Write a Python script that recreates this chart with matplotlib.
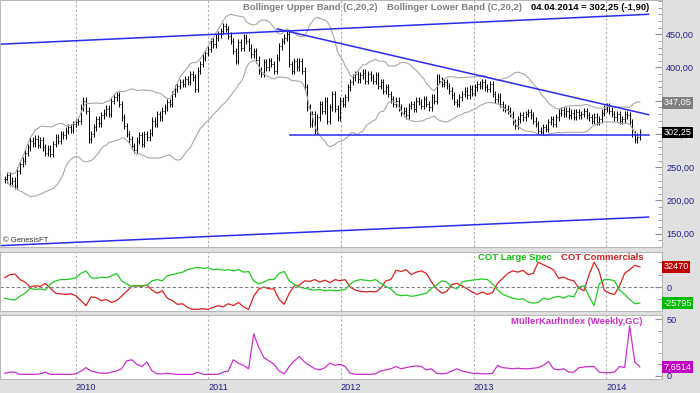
import numpy as np
import pandas as pd
import matplotlib
matplotlib.use('Agg')
import matplotlib.pyplot as plt
import matplotlib.dates as mdates
from matplotlib.ticker import FuncFormatter, MultipleLocator

plt.rcParams['font.family'] = ['Liberation Sans', 'DejaVu Sans']

# weekly closes (last bar 04.04.2014)
closes = [
    232, 238, 226, 230, 222, 245, 255, 260, 272, 280,
    290, 286, 293, 284, 291, 280, 272, 278, 270, 285,
    295, 290, 300, 298, 305, 310, 306, 315, 318, 320,
    340, 350, 335, 292, 300, 310, 322, 316, 328, 332,
    338, 330, 350, 355, 358, 345, 325, 312, 300, 292,
    282, 276, 290, 298, 285, 300, 295, 302, 320, 315,
    330, 325, 335, 340, 348, 345, 360, 368, 372, 378,
    375, 382, 378, 390, 385, 368, 395, 405, 415, 422,
    428, 440, 435, 445, 450, 455, 462, 458, 448, 440,
    425, 410, 438, 430, 445, 440, 430, 420, 425, 412,
    395, 390, 408, 400, 410, 405, 395, 415, 432, 440,
    445, 450, 405, 395, 410, 400, 410, 395, 370, 340,
    315, 330, 305, 325, 345, 335, 350, 320, 340, 360,
    338, 325, 350, 345, 355, 370, 378, 385, 390, 382,
    388, 392, 380, 390, 385, 380, 388, 372, 378, 365,
    370, 360, 352, 345, 350, 340, 332, 335, 328, 342,
    345, 338, 350, 348, 342, 352, 345, 340, 355, 350,
    385, 380, 375, 378, 372, 365, 358, 348, 345, 355,
    360, 365, 358, 368, 362, 370, 375, 372, 378, 370,
    368, 375, 360, 352, 356, 345, 340, 338, 335, 330,
    318, 312, 322, 328, 325, 330, 333, 328, 320, 315,
    305, 303, 310, 308, 318, 322, 315, 325, 332, 336,
    330, 335, 328, 332, 326, 333, 328, 330, 334, 328,
    325, 320, 326, 318, 322, 332, 338, 342, 335, 330,
    325, 330, 320, 322, 330, 328, 318, 300, 292, 296,
    302.25,
]
last_date = '2014-04-04'
wick = 5  # bar extension above/below open-close

# COT net positions (thousands), every second week
cot_commercials = [
    15, 20, 21, 12, 8, 0, 2, 1, 6, -2,
    -10, -11, -12, -11, -14, -22, -30, -16, -17, -22,
    -20, -25, -22, -15, -7, 1, 2, 1, 3, -5,
    -10, -6, -18, -22, -28, -27, -33, -36, -36, -35,
    -36, -33, -30, -32, -27, -30, -25, -32, -36, -15,
    -3, 0, -3, -3, -20, -28, -10, 2, 3, 10,
    9, 12, 8, 11, 7, 12, 10, 12, 0, -5,
    -7, -8, -7, -8, -2, 10, 12, 27, 25, 28,
    20, 24, 26, 22, 8, -3, -10, -7, 4, 6,
    2, -3, -8, -12, -8, -12, -9, 6, 14, 22,
    26, 24, 27, 20, 22, 40, 36, 32, 28, 14,
    16, 12, 10, -2, -6, 20, 40, 25, -5, -10,
    -12, 2, 22, 28, 35, 32.47,
]
cot_large_spec = [
    -18, -20, -21, -15, -10, -2, -4, -3, -5, 5,
    10, 12, 12, 13, 15, 22, 26, 15, 14, 16,
    15, 18, 22, 10, 5, 1, 2, 2, 3, 10,
    12, 10, 18, 20, 22, 24, 28, 30, 32, 30,
    31, 28, 29, 27, 28, 26, 28, 24, 25, 10,
    5, 8, 12, 12, 22, 25, 10, 4, 0, -2,
    -4, -5, -4, -6, -5, -6, -5, -4, 5, 10,
    12, 11, 10, 12, 6, 1, -3, -12, -14, -13,
    -15, -14, -12, -10, -2, 3, 10, 8, 0, -3,
    8, 10, 11, 12, 13, 12, 5, -5, -12, -15,
    -18, -20, -19, -24, -26, -25, -18, -20, -17, -15,
    -18, -14, -16, 0, 2, -15, -30, 5, 12, 12,
    10, -5, -12, -20, -27, -25.795,
]

# MuellerKaufIndex, every second week
mueller = [
    2, 3, 3, 1, 1, 1, 1, 1.5, 3, 1,
    1, 1, 1, 1, 1.5, 4, 7, 4, 3, 2,
    2, 3, 4, 6, 13, 14, 10, 8, 12, 4,
    1.5, 1.5, 2, 1.5, 1, 1, 1, 1, 3, 1,
    1, 1, 1, 3, 4, 14, 11, 9, 6, 37,
    25, 16, 13, 10, 4, 1.5, 8, 13, 17, 12,
    9, 6, 5, 7, 11, 9, 10, 8, 2, 1,
    1, 1, 1, 1.5, 4, 5, 6, 8, 6, 7,
    8, 8.5, 8, 5, 6, 2, 1.5, 2, 4, 6,
    4, 3, 2, 2, 1.5, 1.5, 2, 9, 7, 6.5,
    6, 6.5, 6, 6, 6.5, 7, 9, 12.5, 6, 5,
    6, 3, 3, 7, 7.5, 8, 8, 3, 2.5, 2.5,
    3, 8, 7, 44, 12, 7.6514,
]

# trend lines (date, price)
channel_top = [('2009-06-06', 435), ('2014-04-28', 480)]
channel_bottom = [('2009-06-06', 132), ('2014-04-28', 175)]
resistance = [('2011-07-10', 458), ('2014-04-28', 329)]
support = [('2011-08-14', 299), ('2014-04-28', 299)]
upper_band_last = 347.05

navy = '#20208a'
blue = '#2a2af0'
grey_bg = '#e0e0e0'

dates = pd.date_range(end=last_date, periods=len(closes), freq='7D')
x = mdates.date2num(dates)
x2 = x[::2]
c = np.array(closes, dtype=float)
o = np.concatenate([[c[0]], c[:-1]])
hi = np.maximum(o, c) + wick
lo = np.minimum(o, c) - wick

s = pd.Series(c)
mid = s.rolling(20, min_periods=2).mean()
sd = s.rolling(20, min_periods=2).std(ddof=0)
upper = mid + 2 * sd
lower = mid - 2 * sd

xmin = mdates.date2num(pd.Timestamp('2009-06-06'))
xmax = mdates.date2num(pd.Timestamp('2014-06-04'))
years = [mdates.date2num(pd.Timestamp(f'{y}-01-01')) for y in range(2010, 2015)]

fig = plt.figure(figsize=(7, 3.93), dpi=100, facecolor=grey_bg)
W, H = 700, 393
def box(top, bottom, right=662):
    return [0, 1 - bottom / H, right / W, (bottom - top) / H]

ax1 = fig.add_axes(box(0, 247))
ax2 = fig.add_axes(box(252, 311))
ax3 = fig.add_axes(box(315, 379))

for ax in (ax1, ax2, ax3):
    ax.set_facecolor('white')
    ax.set_xlim(xmin, xmax)
    ax.set_xticks(years)
    for v in years:
        ax.axvline(v, color='#b0b0b0', lw=0.8, ls=(0, (2, 2)), zorder=0)
    ax.yaxis.tick_right()
    ax.tick_params(axis='y', direction='in', colors='#909090', labelcolor=navy,
                   labelsize=6.6, length=5, pad=3)
    ax.tick_params(axis='y', which='minor', direction='in', colors='#909090', length=3)
    ax.tick_params(axis='x', length=0)
    for sp in ax.spines.values():
        sp.set_color('#b8b8b8')
        sp.set_linewidth(0.8)

# main panel: weekly bars, bollinger bands, trend lines
ax1.vlines(x, lo, hi, color='black', lw=0.7)
ax1.hlines(o, x - 2.2, x, color='black', lw=0.7)
ax1.hlines(c, x, x + 2.2, color='black', lw=0.7)
ax1.plot(x, upper, color='#a8a8a8', lw=0.8)
ax1.plot(x, lower, color='#a8a8a8', lw=0.8)
for line in (channel_top, channel_bottom, resistance, support):
    lx = [mdates.date2num(pd.Timestamp(d)) for d, _ in line]
    ly = [v for _, v in line]
    ax1.plot(lx, ly, color=blue, lw=1.1)
ax1.set_ylim(130, 501.5)
ax1.set_yticks(range(150, 451, 50))
ax1.yaxis.set_minor_locator(MultipleLocator(10))
ax1.yaxis.set_major_formatter(FuncFormatter(lambda v, p: f'{v:.2f}'.replace('.', ',')))
ax1.set_xticklabels([])
ax1.text(0.004, 0.012, '\u00a9 GenesisFT', transform=ax1.transAxes, fontsize=5.5,
         color='#303030', va='bottom')

fig.text(243 / W, 1 - 7 / H, 'Bollinger Upper Band (C,20,2)', color='#808080',
         fontsize=6.8, fontweight='bold', va='center')
fig.text(387 / W, 1 - 7 / H, 'Bollinger Lower Band (C,20,2)', color='#808080',
         fontsize=6.8, fontweight='bold', va='center')
fig.text(531 / W, 1 - 7 / H, '04.04.2014 = 302,25 (-1,90)', color='black',
         fontsize=6.8, fontweight='bold', va='center')

def value_box(ax, y, txt, bg):
    ax.text(1.002, y, txt, transform=ax.get_yaxis_transform(), fontsize=6.6,
            color='white', va='center', ha='left', clip_on=False, zorder=5,
            bbox=dict(boxstyle='square,pad=0.15', fc=bg, ec='none'))

value_box(ax1, upper_band_last, '347,05', '#808080')
value_box(ax1, c[-1], '302,25', 'black')

# COT panel
ax2.plot(x2, np.array(cot_commercials) * 1000, color='#dd2020', lw=0.9)
ax2.plot(x2, np.array(cot_large_spec) * 1000, color='#20cc20', lw=0.9)
ax2.axhline(0, color='#808080', lw=0.8, ls=(0, (3, 2)))
ax2.set_ylim(-38700, 56500)
ax2.set_yticks([0])
ax2.set_yticklabels(['0'])
ax2.yaxis.set_minor_locator(MultipleLocator(20000))
ax2.set_xticklabels([])
value_box(ax2, cot_commercials[-1] * 1000, '32470', '#c00000')
value_box(ax2, cot_large_spec[-1] * 1000, '-25795', '#00bb00')
ax2.text(478 / 662, 1 - 5 / 59, 'COT Large Spec', transform=ax2.transAxes,
         color='#10c010', fontsize=6.8, fontweight='bold', va='center')
ax2.text(561 / 662, 1 - 5 / 59, 'COT Commercials', transform=ax2.transAxes,
         color='#d02020', fontsize=6.8, fontweight='bold', va='center')

# Mueller panel
ax3.plot(x2, mueller, color='#cc30cc', lw=0.9)
ax3.set_ylim(-3.1, 53.8)
ax3.set_yticks([0, 50])
ax3.yaxis.set_minor_locator(MultipleLocator(10))
ax3.set_xticklabels([str(y) for y in range(2010, 2015)], color=navy, fontsize=6.6,
                    ha='left')
ax3.tick_params(axis='x', pad=3)
value_box(ax3, mueller[-1], '7,6514', '#c000c0')
ax3.text(511 / 662, 1 - 6 / 64, 'M\u00fcllerKaufIndex (Weekly,GC)', transform=ax3.transAxes,
         color='#cc30cc', fontsize=6.8, fontweight='bold', va='center')

fig.savefig('out.png', dpi=100, facecolor=grey_bg)
